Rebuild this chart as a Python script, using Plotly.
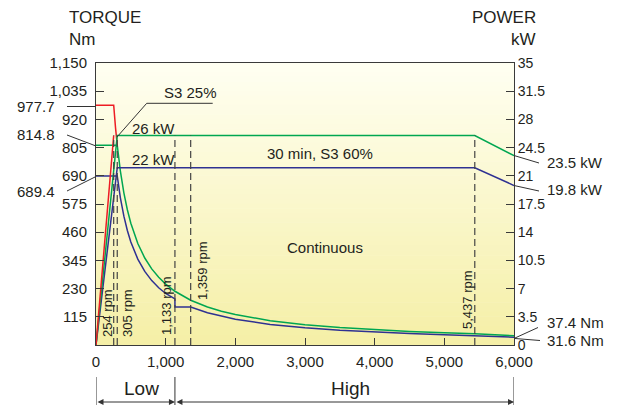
import plotly.graph_objects as go

# ---------------- data ----------------
rpm_ticks = [0, 1000, 2000, 3000, 4000, 5000, 6000]
torque_ticks = [115, 230, 345, 460, 575, 690, 805, 920, 1035, 1150]
power_ticks = [0, 3.5, 7, 10.5, 14, 17.5, 21, 24.5, 28, 31.5, 35]

# S3 25% (red)
red_torque_rpm = [0, 254, 280, 305]
red_torque = [977.7, 977.7, 886.7, 814.8]
red_power_rpm = [0, 254]
red_power = [0, 26]

# 30 min, S3 60% (green)
green_torque_rpm = [0, 305, 350, 400, 450, 500, 600, 700, 800, 900, 1000, 1133, 1359,
                    1600, 1800, 2000, 2500, 3000, 3500, 4000, 4500, 5000, 5437, 6000]
green_torque = [814.8, 814.8, 709.4, 620.7, 551.7, 496.6, 413.8, 354.7, 310.4, 275.9, 248.3,
                219.1, 182.7, 155.2, 137.9, 124.1, 99.3, 82.8, 70.9, 62.1, 55.2, 49.7, 45.7, 37.4]
green_power_rpm = [0, 305, 5437, 6000]
green_power = [0, 26, 26, 23.5]

# Continuous (blue)
blue_torque_rpm = [0, 305, 350, 400, 450, 500, 600, 700, 800, 900, 1000, 1133, 1133, 1359,
                   1600, 1800, 2000, 2500, 3000, 3500, 4000, 4500, 5000, 5437, 6000]
blue_torque = [689.4, 689.4, 600.2, 525.2, 466.9, 420.2, 350.1, 300.1, 262.6, 233.4, 210.1,
               188.0, 154.6, 154.6, 131.3, 116.7, 105.0, 84.0, 70.0, 60.0, 52.5, 46.7, 42.0, 38.6, 31.6]
blue_power_rpm = [0, 305, 5437, 6000]
blue_power = [0, 22, 22, 19.8]

marker_rpm = [254, 305, 1133, 1359, 5437]
marker_labels = ["254 rpm", "305 rpm", "1,133 rpm", "1,359 rpm", "5,437 rpm"]
switch_rpm = 1133
rpm_max = 6000

# ---------------- layout helpers ----------------
W, H = 627, 405
ML, MR, MT, MB = 96, 113, 63, 60
PW, PH = W - ML - MR, H - MT - MB
FONT = "Liberation Sans, Arial, Helvetica, sans-serif"
TXT = "#231f20"
AX = "#3a3a3a"
RED, GREEN, BLUE = "#ed1c24", "#00a651", "#2e3192"


def px(x):
    return (x - ML) / PW


def py(y):
    return (H - MB - y) / PH


fig = go.Figure()

fig.add_trace(go.Scatter(x=blue_power_rpm, y=blue_power, yaxis="y2", mode="lines",
                         line=dict(color=BLUE, width=1.5), hoverinfo="skip"))
fig.add_trace(go.Scatter(x=blue_torque_rpm, y=blue_torque, mode="lines",
                         line=dict(color=BLUE, width=1.5), hoverinfo="skip"))
fig.add_trace(go.Scatter(x=green_power_rpm, y=green_power, yaxis="y2", mode="lines",
                         line=dict(color=GREEN, width=1.5), hoverinfo="skip"))
fig.add_trace(go.Scatter(x=green_torque_rpm, y=green_torque, mode="lines",
                         line=dict(color=GREEN, width=1.5), hoverinfo="skip"))
fig.add_trace(go.Scatter(x=red_power_rpm, y=red_power, yaxis="y2", mode="lines",
                         line=dict(color=RED, width=1.5), hoverinfo="skip"))
fig.add_trace(go.Scatter(x=red_torque_rpm, y=red_torque, mode="lines",
                         line=dict(color=RED, width=1.5), hoverinfo="skip"))

shapes = []
# background gradient
N = 60
top = (255, 255, 242)
bot = (245, 239, 166)
for i in range(N):
    t = (i + 0.5) / N
    c = tuple(int(round(top[k] + (bot[k] - top[k]) * t)) for k in range(3))
    shapes.append(dict(type="rect", xref="paper", yref="paper", x0=0, x1=1,
                       y0=1 - (i + 1) / N, y1=1 - i / N + 0.002, layer="below",
                       line=dict(width=0), fillcolor=f"rgb{c}"))

# dashed rpm markers
for r in marker_rpm:
    shapes.append(dict(type="line", xref="x", yref="y2", x0=r, x1=r, y0=0,
                       y1=green_power[1], line=dict(color="#444", width=1.2, dash="7px,4px")))

# leader lines (pixel positions)
leaders = [
    ((67, 106.5), (96, 106.5)),
    ((67, 135), (96, 146)),
    ((67, 191), (96, 176.5)),
    ((514, 155.5), (539, 163)),
    ((514, 185.5), (539, 191)),
    ((515, 338), (538, 327.5)),
    ((515, 338.5), (540, 340.5)),
    ((146.7, 103.3), (212.7, 103.3)),
    ((146.7, 103.3), (117, 137)),
]
for (x0, y0), (x1, y1) in leaders:
    shapes.append(dict(type="line", xref="paper", yref="paper", x0=px(x0), y0=py(y0),
                       x1=px(x1), y1=py(y1), line=dict(color="#333", width=1)))

# Low / High brackets
for r in [0, switch_rpm, rpm_max]:
    shapes.append(dict(type="line", xref="x", yref="paper", x0=r, x1=r,
                       y0=py(377), y1=py(405), line=dict(color="#333", width=1)))

ann = []


def text(x, y, s, size=14, xanchor="left", yanchor="middle", angle=0):
    ann.append(dict(xref="paper", yref="paper", x=px(x), y=py(y), text=s, showarrow=False,
                    xanchor=xanchor, yanchor=yanchor, textangle=angle,
                    font=dict(family=FONT, size=size, color=TXT)))


text(67, 17, "TORQUE", 17)
text(67, 39, "Nm", 17)
text(538, 17, "POWER", 17, xanchor="right")
text(538, 39, "kW", 17, xanchor="right")

text(57, 106, f"{red_torque[0]}", 15, xanchor="right")
text(57, 134, f"{green_torque[0]}", 15, xanchor="right")
text(57, 191, f"{blue_torque[0]}", 15, xanchor="right")

text(545, 162, f"{green_power[-1]} kW", 15)
text(545, 189, f"{blue_power[-1]} kW", 15)
text(545, 322, f"{green_torque[-1]} Nm", 15)
text(545, 340, f"{blue_torque[-1]} Nm", 15)

text(162, 92, "S3 25%", 15)
text(130, 128, f"{green_power[1]:g} kW", 15)
text(130, 159, f"{blue_power[1]:g} kW", 15)
text(320, 153, "30 min, S3 60%", 15, xanchor="center")
text(325, 247, "Continuous", 15, xanchor="center")

rot_pos = [(107, 313), (127, 313), (166, 306), (202, 271), (467, 300)]
for (x, y), s in zip(rot_pos, marker_labels):
    text(x, y, s, 13, xanchor="center", angle=-90)

text(141, 388, "Low", 19, xanchor="center")
text(350, 388, "High", 19, xanchor="center")

# arrows
for a, b in [(0, switch_rpm), (switch_rpm, rpm_max)]:
    ann.append(dict(xref="x", yref="paper", x=b, y=py(402), axref="x", ayref="pixel",
                    ax=a, ay=0, text="", showarrow=True, arrowhead=2, arrowsize=1.2,
                    arrowwidth=1, arrowcolor="#333", arrowside="end+start"))

fig.update_layout(
    width=W, height=H,
    margin=dict(l=ML, r=MR, t=MT, b=MB),
    paper_bgcolor="white", plot_bgcolor="rgba(0,0,0,0)",
    showlegend=False,
    font=dict(family=FONT, size=15, color=TXT),
    shapes=shapes, annotations=ann,
    xaxis=dict(range=[0, rpm_max], tickvals=rpm_ticks,
               ticktext=[f"{v:,}" for v in rpm_ticks], ticks="inside", ticklen=7,
               tickcolor=AX, showline=True, linecolor=AX, linewidth=1, mirror=True,
               ticklabelstandoff=3, automargin=False,
               showgrid=False, zeroline=False, tickfont=dict(size=15, color=TXT)),
    yaxis=dict(range=[0, 1150], tickvals=torque_ticks,
               ticktext=[f"{v:,}" for v in torque_ticks], ticks="inside", ticklen=8,
               tickcolor=AX, showline=True, linecolor=AX, linewidth=1,
               ticklabelstandoff=5, automargin=False,
               showgrid=False, zeroline=False, tickfont=dict(size=15, color=TXT)),
    yaxis2=dict(range=[0, 35], tickvals=power_ticks,
                ticktext=[f"{v:g}" for v in power_ticks], ticks="inside", ticklen=8,
                tickcolor=AX, showline=True, linecolor=AX, linewidth=1, automargin=False,
                overlaying="y", side="right", showgrid=False, zeroline=False,
                tickfont=dict(size=14, color=TXT)),
)

fig.write_html("out.html", config={"displayModeBar": False},
               post_script="document.body.style.margin='0';")
